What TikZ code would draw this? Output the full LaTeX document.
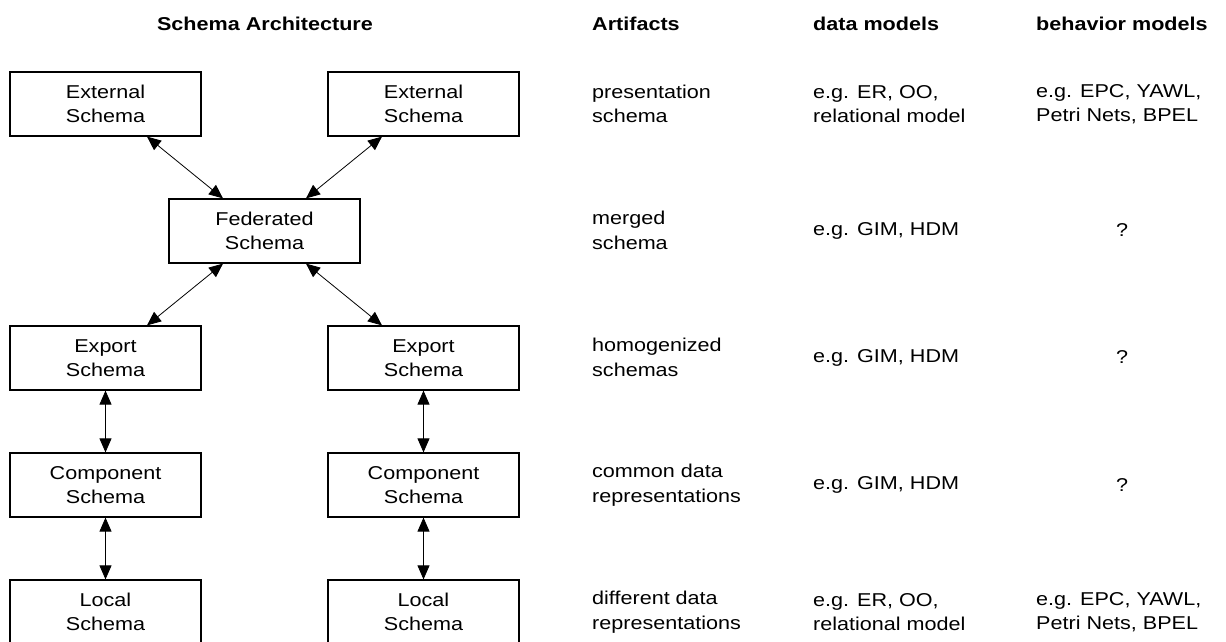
\documentclass[tikz,border=0pt]{standalone}
\usepackage{fontspec}
\setmainfont{Liberation Sans}[FakeStretch=1.16]
\usetikzlibrary{arrows.meta,calc}
\begin{document}
\begin{tikzpicture}[x=1pt,y=-1pt,
  every node/.style={font=\fontsize{18.6}{24.5}\selectfont},
  schemabox/.style={draw,line width=1.2pt,minimum width=191pt,minimum height=64pt,align=center,inner sep=0pt},
  coltext/.style={anchor=west,align=left,inner sep=0pt},
  hdr/.style={font=\fontsize{18.6}{24.5}\selectfont\bfseries,inner sep=0pt},
  link/.style={line width=0.8pt,{Triangle[length=14pt,width=12pt]}-{Triangle[length=14pt,width=12pt]}}]
\useasboundingbox (0,0) rectangle (1226,642);
% headers
\node[hdr] (h0) at (265,24) {Schema Architecture};
\node[hdr,anchor=west] (h1) at (592,24) {Artifacts};
\node[hdr,anchor=west] (h2) at (813,24) {data models};
\node[hdr,anchor=west] (h3) at (1036,24) {behavior models};
% boxes
\node[schemabox] (ext1) at (105.5,104) {External\\Schema};
\node[schemabox] (ext2) at (423.5,104) {External\\Schema};
\node[schemabox] (fed) at (264.5,231) {Federated\\Schema};
\node[schemabox] (exp1) at (105.5,358) {Export\\Schema};
\node[schemabox] (exp2) at (423.5,358) {Export\\Schema};
\node[schemabox] (com1) at (105.5,485) {Component\\Schema};
\node[schemabox] (com2) at (423.5,485) {Component\\Schema};
\node[schemabox] (loc1) at (105.5,612) {Local\\Schema};
\node[schemabox] (loc2) at (423.5,612) {Local\\Schema};
% connectors
\draw[link] ([xshift=41.5pt]ext1.south) -- ([xshift=-41.5pt]fed.north);
\draw[link] ([xshift=-41.5pt]ext2.south) -- ([xshift=41.5pt]fed.north);
\draw[link] ([xshift=-41.5pt]fed.south) -- ([xshift=41.5pt]exp1.north);
\draw[link] ([xshift=41.5pt]fed.south) -- ([xshift=-41.5pt]exp2.north);
\draw[link] (exp1) -- (com1);
\draw[link] (exp2) -- (com2);
\draw[link] (com1) -- (loc1);
\draw[link] (com2) -- (loc2);
% artifacts column
\node[coltext] (a1) at (592,104) {presentation\\schema};
\node[coltext] (a2) at (592,230.5) {merged\\schema};
\node[coltext] (a3) at (592,357.5) {homogenized\\schemas};
\node[coltext] (a4) at (592,485) {common data\\representations};
\node[coltext] (a5) at (592,612) {different data\\representations};
% data models column
\node[coltext] (d1) at (813,104) {e.g. ER, OO,\\relational model};
\node[coltext] (d2) at (813,230.5) {e.g. GIM, HDM};
\node[coltext] (d3) at (813,357.5) {e.g. GIM, HDM};
\node[coltext] (d4) at (813,485) {e.g. GIM, HDM};
\node[coltext] (d5) at (813,612) {e.g. ER, OO,\\relational model};
% behavior models column
\node[coltext] (b1) at (1036,104) {e.g. EPC, YAWL,\\Petri Nets, BPEL};
\node[inner sep=0pt] (b2) at (1122,230.5) {?};
\node[inner sep=0pt] (b3) at (1122,357.5) {?};
\node[inner sep=0pt] (b4) at (1122,485) {?};
\node[coltext] (b5) at (1036,612) {e.g. EPC, YAWL,\\Petri Nets, BPEL};
\end{tikzpicture}
\end{document}
